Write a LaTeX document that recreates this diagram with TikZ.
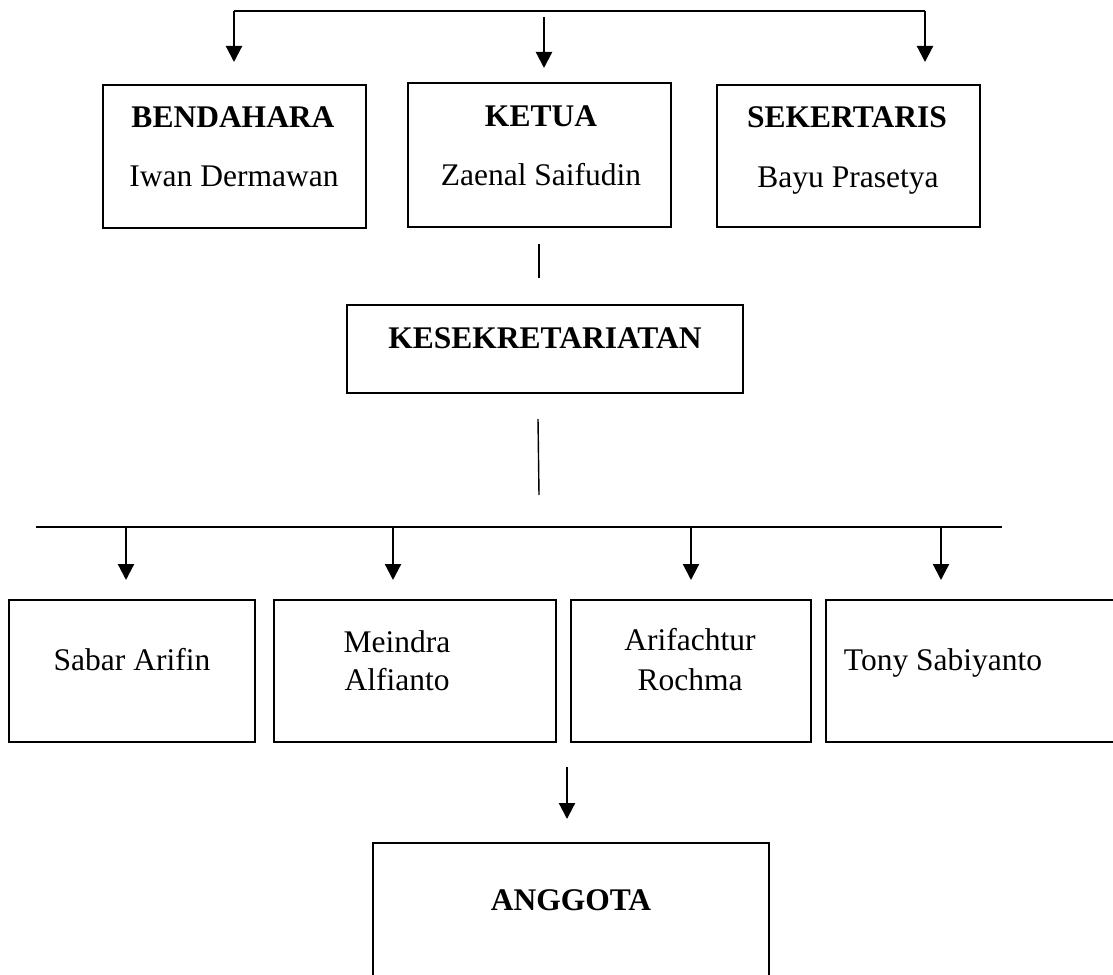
\documentclass[tikz,border=0pt]{standalone}
\usepackage{fontspec}
\setmainfont{Liberation Serif}
\usetikzlibrary{arrows.meta}
\begin{document}
\begin{tikzpicture}[x=1pt,y=-1pt,
  box/.style={draw,line width=2.8pt,inner sep=0pt},
  txt/.style={inner sep=0pt,anchor=base,font=\fontsize{31.5}{36}\selectfont},
  btxt/.style={inner sep=0pt,anchor=base,font=\fontsize{31.5}{36}\selectfont\bfseries},
  arr/.style={line width=2.2pt,-{Triangle[width=16pt,length=16pt]}},
  conn/.style={line width=1.4pt}]
\clip (0,0) rectangle (1113,974);
\fill[white] (0,0) rectangle (1113,974);

% top boxes
\node[box,minimum width=263pt,minimum height=143pt] (bend) at (234.5,156.5) {};
\node[box,minimum width=263pt,minimum height=144pt] (ketua) at (539.5,155) {};
\node[box,minimum width=263pt,minimum height=142pt] (sek) at (848.5,156) {};
\node[btxt] (bendT) at (233,127) {BENDAHARA};
\node[txt]  (bendN) at (234,186) {Iwan Dermawan};
\node[btxt] (ketuaT) at (541,126) {KETUA};
\node[txt]  (ketuaN) at (541,185) {Zaenal Saifudin};
\node[btxt] (sekT) at (847,127) {SEKERTARIS};
\node[txt]  (sekN) at (848,187) {Bayu Prasetya};

% kesekretariatan
\node[box,minimum width=396pt,minimum height=88pt] (kes) at (545,349) {};
\node[btxt] (kesT) at (545,348) {KESEKRETARIATAN};

% bottom row
\node[box,minimum width=246pt,minimum height=142pt] (b1) at (132,671) {};
\node[box,minimum width=282pt,minimum height=142pt] (b2) at (415,671) {};
\node[box,minimum width=240pt,minimum height=142pt] (b3) at (691,671) {};
\node[box,minimum width=304pt,minimum height=142pt] (b4) at (978,671) {};
\node[txt] (b1T) at (132,670) {Sabar Arifin};
\node[txt] (b2T) at (397,652) {Meindra};
\node[txt] (b2U) at (397,690) {Alfianto};
\node[txt] (b3T) at (690,650) {Arifachtur};
\node[txt] (b3U) at (690,690) {Rochma};
\node[txt] (b4T) at (943,670) {Tony Sabiyanto};

% anggota
\node[box,minimum width=396pt,minimum height=157pt] (ang) at (571,921.5) {};
\node[btxt] (angT) at (571,910) {ANGGOTA};

% connector coordinates
\coordinate (tl) at (234,11);
\coordinate (tr) at (925,11);
\coordinate (tm) at (544,17);
\coordinate (tlE) at (234,62);
\coordinate (tmE) at (544,68);
\coordinate (trE) at (925,62);
\coordinate (k1) at (539,244);
\coordinate (k2) at (539,278);
\coordinate (k3) at (538,419);
\coordinate (k4) at (539,495);
\coordinate (bl) at (36,527);
\coordinate (br) at (1002,527);
\coordinate (a1) at (126,528); \coordinate (a1E) at (126,580);
\coordinate (a2) at (393,528); \coordinate (a2E) at (393,580);
\coordinate (a3) at (691,528); \coordinate (a3E) at (691,580);
\coordinate (a4) at (941,528); \coordinate (a4E) at (941,580);
\coordinate (g1) at (567,767); \coordinate (g1E) at (567,819);

\draw[conn] (tl) -- (tr);
\draw[arr] (tl) -- (tlE);
\draw[arr] (tm) -- (tmE);
\draw[arr] (tr) -- (trE);
\draw[conn] (k1) -- (k2);
\draw[conn] (k3) -- (k4);
\draw[conn] (bl) -- (br);
\draw[arr] (a1) -- (a1E);
\draw[arr] (a2) -- (a2E);
\draw[arr] (a3) -- (a3E);
\draw[arr] (a4) -- (a4E);
\draw[arr] (g1) -- (g1E);
\end{tikzpicture}
\end{document}
